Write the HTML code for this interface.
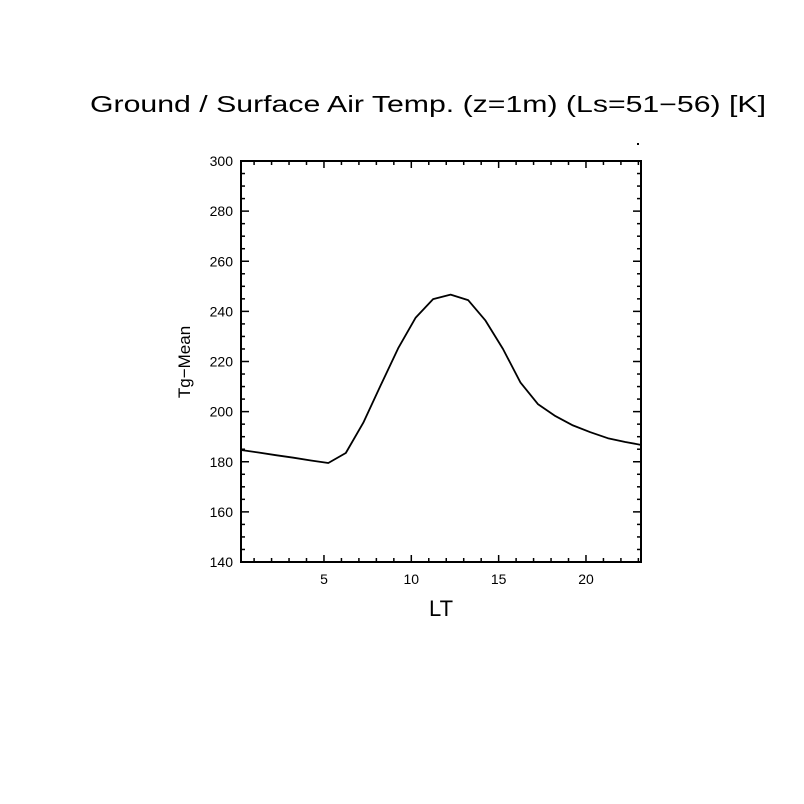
<!DOCTYPE html>
<html><head><meta charset="utf-8"><style>
html,body{margin:0;padding:0;background:#fff;}
svg{display:block;font-family:"Liberation Sans","DejaVu Sans",sans-serif;}
</style></head><body>
<svg id="chart" width="804" height="804" viewBox="0 0 804 804">
<rect width="804" height="804" fill="#fff"/>
<text x="428" y="112" font-size="23" text-anchor="middle" textLength="676" lengthAdjust="spacingAndGlyphs">Ground / Surface Air Temp. (z=1m) (Ls=51−56) [K]</text>
<rect x="637" y="143" width="2" height="2" fill="#000"/>
<g id="axes"></g>
<text x="441" y="616" font-size="22" text-anchor="middle">LT</text>
<text transform="translate(190,362) rotate(-90)" font-size="17" text-anchor="middle">Tg−Mean</text>
</svg>
<script>
const xTickValues=[5,10,15,20];
const yTickValues=[140,160,180,200,220,240,260,280,300];
const hours=[0.25,1.25,2.25,3.25,4.25,5.25,6.25,7.25,8.25,9.25,10.25,11.25,12.25,13.25,14.25,15.25,16.25,17.25,18.25,19.25,20.25,21.25,22.25,23.1];
const tgMean=[184.7,183.7,182.6,181.6,180.5,179.5,183.5,195.6,210.5,225.3,237.5,244.9,246.7,244.5,236.3,225.0,211.6,203.0,198.2,194.5,191.8,189.4,187.9,186.8];
const L=241,R=641,T=161,B=562,xMin=0.25,xMax=23.15,yMin=140,yMax=300;
const sx=v=>L+(v-xMin)/(xMax-xMin)*(R-L);
const sy=v=>B-(v-yMin)/(yMax-yMin)*(B-T);
const NS='http://www.w3.org/2000/svg';
const g=document.getElementById('axes');
function mk(t,a){const e=document.createElementNS(NS,t);for(const k in a)e.setAttribute(k,a[k]);g.appendChild(e);return e;}
const frame=mk('rect',{x:L,y:T,width:R-L,height:B-T,fill:'none',stroke:'#000','stroke-width':2});


// x ticks
for(let v=1;v<=23;v++){const x=sx(v);if(x<L||x>R)continue;const major=v%5===0;const len=major?7:4;
const t1=mk('line',{x1:x,x2:x,y1:B,y2:B-len,stroke:'#000','stroke-width':1.5});


const t2=mk('line',{x1:x,x2:x,y1:T,y2:T+len,stroke:'#000','stroke-width':1.5});

}
xTickValues.forEach(v=>{const t=mk('text',{x:sx(v),y:B+22,'font-size':14,'text-anchor':'middle'});t.textContent=v;

});
// y ticks
for(let v=yMin;v<=yMax;v+=5){const y=sy(v);const major=v%20===0;const len=major?8:4;
const t1=mk('line',{x1:L,x2:L+len,y1:y,y2:y,stroke:'#000','stroke-width':1.5});


const t2=mk('line',{x1:R,x2:R-len,y1:y,y2:y,stroke:'#000','stroke-width':1.5});

}
yTickValues.forEach(v=>{const t=mk('text',{x:L-8,y:sy(v)+5,'font-size':14,'text-anchor':'end'});t.textContent=v;

});
const pts=hours.map((h,i)=>sx(h).toFixed(1)+','+sy(tgMean[i]).toFixed(1)).join(' ');
const line=mk('polyline',{points:pts,fill:'none',stroke:'#000','stroke-width':1.8,'stroke-linejoin':'round'});


</script>
</body></html>
